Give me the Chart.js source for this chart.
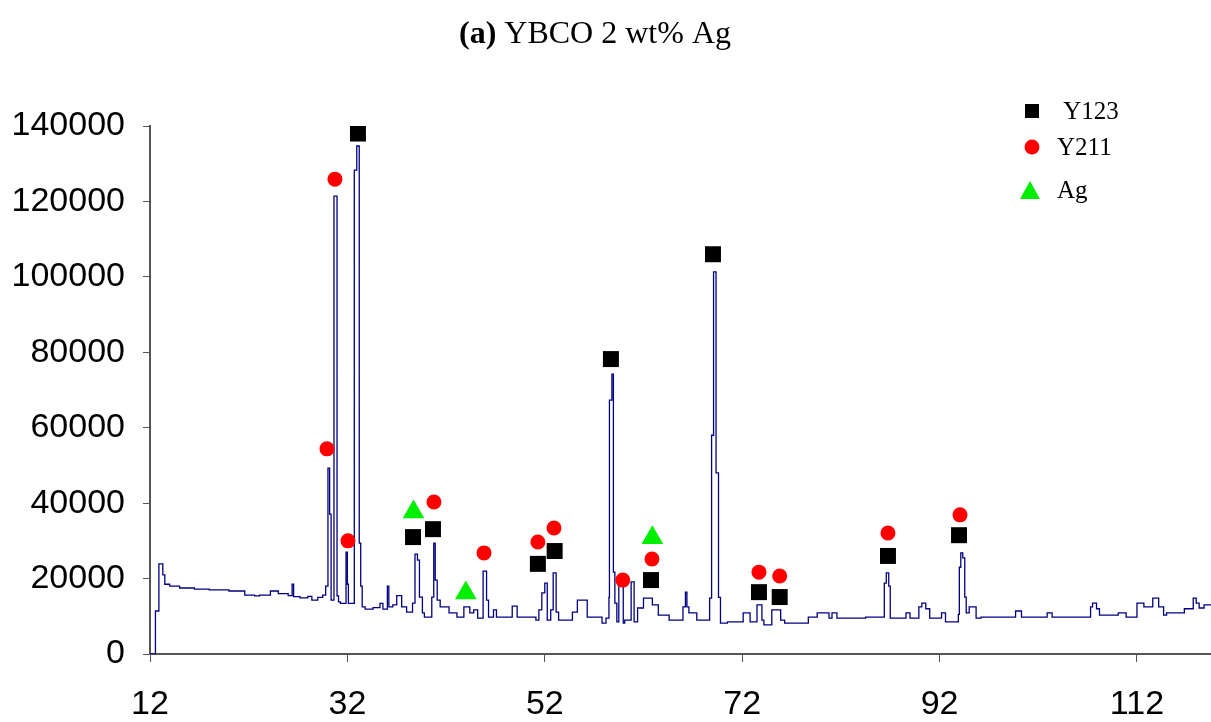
<!DOCTYPE html>
<html>
<head>
<meta charset="utf-8">
<script src="https://cdn.jsdelivr.net/npm/chart.js@4/dist/chart.umd.min.js"></script>
<style>
  html, body { margin: 0; padding: 0; background: #fff; overflow: hidden; }
  #wrap { width: 1211px; height: 722px; position: relative; }
  canvas { display: block; }
</style>
</head>
<body>
<div id="wrap"><canvas id="xrdChart"></canvas></div>
<script>
// 2-theta positions and intensities of the pattern (step trace, each value holds until the next angle)
const twoTheta = [12.0, 12.55, 12.9, 13.3, 13.5, 14.0, 15.0, 16.5, 18.0, 20.0, 21.6, 22.6, 23.1, 24.2, 25.0, 26.0, 26.4, 26.55, 27.2, 28.0,
  28.4, 29.0, 29.5, 29.8, 30.03, 30.2, 30.35, 30.64, 30.95, 31.1, 31.3, 31.86, 32.0, 32.1, 32.7, 32.95, 33.2, 33.35, 33.5, 33.8,
  34.6, 35.3, 35.6, 36.05, 36.2, 36.6, 37.0, 37.5, 38.0, 38.6, 38.85, 39.1, 39.3, 39.6, 39.8, 40.55, 40.75, 40.9, 41.1, 41.4,
  42.3, 43.1, 43.8, 44.4, 44.8, 45.2, 45.75, 46.1, 46.3, 46.8, 47.1, 48.7, 49.2, 51.1, 51.4, 51.7, 52.0, 52.25, 52.6, 52.85,
  53.15, 53.4, 54.8, 55.3, 56.3, 57.8, 58.2, 58.5, 58.55, 58.8, 58.95, 59.1, 59.3, 59.5, 59.95, 60.1, 60.75, 61.05, 61.4, 62.0,
  62.9, 63.5, 64.6, 66.0, 66.25, 66.4, 66.6, 67.4, 68.7, 68.9, 69.1, 69.35, 69.6, 69.8, 70.5, 72.1, 72.8, 73.5, 74.0, 74.2,
  75.0, 75.9, 76.3, 78.7, 79.6, 80.8, 81.1, 81.6, 84.5, 86.4, 86.6, 86.85, 87.0, 88.6, 89.0, 89.9, 90.2, 90.6, 91.0, 92.2,
  92.6, 93.9, 94.0, 94.15, 94.35, 94.55, 94.7, 95.0, 95.7, 96.2, 99.7, 100.3, 102.9, 103.4, 107.3, 107.5, 107.9, 108.2, 110.1, 110.9,
  112.0, 112.7, 113.6, 114.2, 114.7, 115.0, 116.8, 117.7, 118.0, 118.3, 118.8, 119.5];
const intensity = [0, 11400, 23900, 21000, 18500, 18000, 17500, 17200, 17000, 16700, 15600, 15400, 15600, 16700, 16000, 15500, 18500, 15200, 14900, 15300,
  14300, 15000, 15600, 18000, 49300, 37100, 14300, 121400, 15400, 13800, 13400, 27000, 18500, 13400, 128300, 134700, 29400, 18000, 12500, 11900,
  12300, 13400, 11900, 18000, 12500, 13000, 15500, 12500, 11100, 13500, 26500, 24900, 15100, 10900, 9800, 15100, 29400, 19600, 14300, 12500,
  10900, 9800, 12500, 10900, 11700, 9500, 22000, 14300, 9800, 11700, 9800, 12700, 9800, 9000, 11700, 16200, 18800, 9000, 11700, 21500,
  11100, 9000, 11100, 14300, 9800, 8200, 9500, 15000, 67300, 74200, 21700, 13500, 8500, 18300, 8200, 9000, 19100, 8500, 12200, 14800,
  13000, 10300, 9000, 12500, 16400, 12500, 10900, 9000, 14800, 58000, 101300, 48000, 15000, 8200, 8500, 10900, 8500, 13000, 9000, 7700,
  11700, 9000, 8200, 9800, 10900, 9500, 10900, 9500, 9800, 18800, 21500, 18000, 9500, 10900, 9500, 12500, 13500, 12000, 9500, 10900,
  8500, 10500, 23000, 26800, 25500, 15100, 10900, 12500, 9500, 9800, 11400, 9800, 10900, 9800, 12500, 13500, 12000, 10300, 10900, 9800,
  13500, 12500, 14800, 12500, 10300, 10900, 12000, 14800, 13500, 12200, 13000, 13000];

// phase markers
const y123X = [33.07, 38.65, 40.67, 51.3, 53.0, 58.7, 62.76, 69.04, 73.7, 75.8, 86.77, 93.97];
const y123Y = [138000, 31000, 33100, 23900, 27300, 78200, 19600, 106000, 16400, 15100, 26000, 31500];
const y211X = [30.74, 29.93, 32.06, 40.77, 45.84, 51.3, 52.93, 59.9, 62.86, 73.7, 75.8, 86.77, 94.07];
const y211Y = [125900, 54400, 30000, 40300, 26800, 29700, 33400, 19600, 25200, 21700, 20700, 32100, 36900];
const agX = [38.7, 44.0, 62.9];
const agY = [37650, 16200, 30800];

const xTicks = [12, 32, 52, 72, 92, 112];
const yTicks = [0, 20000, 40000, 60000, 80000, 100000, 120000, 140000];

const toPoints = (xs, ys) => xs.map((x, i) => ({ x: x, y: ys[i] }));

// title with bold "(a)"
const titlePlugin = {
    id: 'titleText',
    afterDraw(chart) {
        const ctx = chart.ctx;
        ctx.save();
        ctx.fillStyle = '#000';
        ctx.textBaseline = 'alphabetic';
        const boldFont = 'bold 32px "Liberation Serif"';
        const normFont = '32px "Liberation Serif"';
        ctx.font = boldFont;
        const w1 = ctx.measureText('(a)').width;
        ctx.font = normFont;
        const w2 = ctx.measureText(' YBCO 2 wt% Ag').width;
        let x = 595 - (w1 + w2) / 2;
        ctx.font = boldFont;
        ctx.fillText('(a)', x, 43);
        ctx.font = normFont;
        ctx.fillText(' YBCO 2 wt% Ag', x + w1, 43);
        ctx.restore();
    }
};

// legend in the top right corner
const legendPlugin = {
    id: 'phaseLegend',
    afterDraw(chart) {
        const ctx = chart.ctx;
        const rows = [111, 147, 190];
        ctx.save();
        ctx.font = '25px "Liberation Serif"';
        ctx.textBaseline = 'middle';
        chart.data.datasets.forEach((ds, i) => {
            if (!ds.legendShape) return;
            const y = rows[i];
            const x = 1032;
            ctx.fillStyle = ds.backgroundColor;
            ctx.beginPath();
            if (ds.legendShape === 'rect') {
                ctx.rect(x - 7, y - 7, 14, 14);
            } else if (ds.legendShape === 'circle') {
                ctx.arc(x, y, 7.5, 0, Math.PI * 2);
            } else {
                ctx.moveTo(x - 2, y - 9);
                ctx.lineTo(x + 8, y + 9);
                ctx.lineTo(x - 12, y + 9);
                ctx.closePath();
            }
            ctx.fill();
            ctx.fillStyle = '#000';
            ctx.fillText(ds.label, 1057, y + 1);
        });
        ctx.restore();
    }
};

const ctx = document.getElementById('xrdChart').getContext('2d');
new Chart(ctx, {
    type: 'scatter',
    data: {
        datasets: [
            {
                label: ' Y123',
                legendShape: 'rect',
                data: toPoints(y123X, y123Y),
                pointStyle: 'rect',
                pointRadius: 11.3,
                backgroundColor: '#000000',
                borderWidth: 0
            },
            {
                label: 'Y211',
                legendShape: 'circle',
                data: toPoints(y211X, y211Y),
                pointStyle: 'circle',
                pointRadius: 7.5,
                backgroundColor: '#ff0000',
                borderWidth: 0
            },
            {
                label: 'Ag',
                legendShape: 'triangle',
                data: toPoints(agX, agY),
                pointStyle: 'triangle',
                pointRadius: 12.5,
                backgroundColor: '#00ee00',
                borderWidth: 0
            },
            {
                label: 'pattern',
                data: toPoints(twoTheta, intensity),
                showLine: true,
                stepped: 'before',
                pointRadius: 0,
                borderColor: '#000080',
                borderWidth: 1.3,
                fill: false
            }
        ]
    },
    options: {
        responsive: true,
        maintainAspectRatio: false,
        animation: false,
        layout: {
            autoPadding: false,
            padding: { top: 126, right: 0, left: 0, bottom: 0 }
        },
        scales: {
            x: {
                type: 'linear',
                min: 12,
                max: 119.5,
                afterBuildTicks: scale => { scale.ticks = xTicks.map(v => ({ value: v })); },
                afterFit: scale => {
                    scale.height = 68;
                    scale.paddingLeft = 0;
                    scale.paddingRight = 0;
                },
                grid: { drawOnChartArea: false, drawTicks: true, tickLength: 8, color: '#555' },
                border: { display: true, color: '#555', width: 2 },
                ticks: {
                    color: '#000',
                    padding: 22,
                    maxRotation: 0,
                    autoSkip: false,
                    font: { family: '"Liberation Sans"', size: 34 }
                }
            },
            y: {
                min: 0,
                max: 140000,
                afterBuildTicks: scale => { scale.ticks = yTicks.map(v => ({ value: v })); },
                afterFit: scale => { scale.width = 150; },
                grid: { drawOnChartArea: false, drawTicks: true, tickLength: 7, color: '#555' },
                border: { display: true, color: '#555', width: 2 },
                ticks: {
                    color: '#000',
                    padding: 18,
                    callback: v => String(v),
                    font: { family: '"Liberation Sans"', size: 34 }
                }
            }
        },
        plugins: {
            legend: { display: false },
            tooltip: { enabled: false }
        }
    },
    plugins: [titlePlugin, legendPlugin]
});
</script>
</body>
</html>
